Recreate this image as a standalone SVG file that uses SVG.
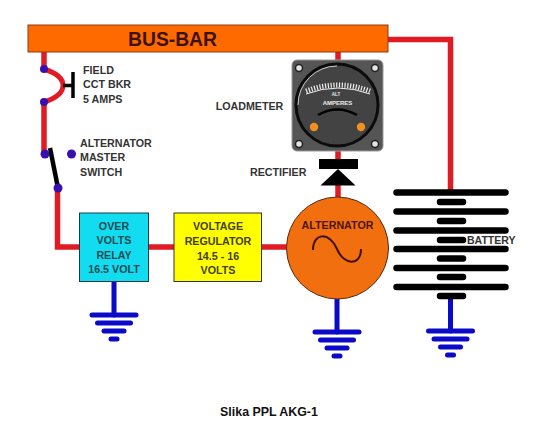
<svg xmlns="http://www.w3.org/2000/svg" width="539" height="447" viewBox="0 0 539 447">
<style>
text{font-family:"Liberation Sans",Arial,sans-serif;font-weight:700;font-size:10.7px;fill:#333}
.m{text-anchor:middle}
.w{fill:none;stroke:#e01b24;stroke-width:5.5}
.g{fill:none;stroke:#0a0ac8;stroke-width:5;stroke-linecap:round}
.b{fill:none;stroke:#000;stroke-width:6.5;stroke-linecap:round}
.d{fill:#3a0fb0}
.rl{fill:#1c4a50}
.yl{fill:#444010}
</style>
<defs>
<g id="gnd" class="g">
<path d="M0 0V33"/><path d="M-22 33H22"/><path d="M-16.500 41H16.500"/><path d="M-10 49H10"/><path d="M-3 57H3"/>
</g>
</defs>
<rect width="539" height="447" fill="#fff"/>
<g id="connectors">
<path class="w" d="M44 52V69M44 102V153M57.500 190V247H80M148 247H175M261 247H288M338 52V62M338 150V160M338 184V198M388 39.500H450.500V190"/>
<path d="M44 69Q63 75 63 85.500Q63 96 44 102" fill="none" stroke="#e01b24" stroke-width="5"/>
<use href="#gnd" x="114" y="282"/>
<use href="#gnd" x="337" y="299"/>
<use href="#gnd" x="450.500" y="298"/>
</g>
<g id="bus-bar">
<rect x="28" y="25" width="360" height="27" fill="#ff6a00" stroke="#8a3b10"/>
<text class="m" x="172.500" y="46" style="font-size:19.300px;fill:#3a1208">BUS-BAR</text>
</g>
<g id="field-breaker">
<path d="M63 85.500H73M73 72V98" fill="none" stroke="#000" stroke-width="3.500"/>
<circle class="d" cx="44" cy="69" r="4"/><circle class="d" cx="44" cy="102" r="4"/>
<text x="83" y="74">FIELD</text><text x="83" y="88">CCT BKR</text><text x="83" y="103">5 AMPS</text>
</g>
<g id="master-switch">
<path d="M50 148L58 188" stroke="#000" stroke-width="4.500"/>
<circle class="d" cx="45" cy="154" r="4.500"/><circle class="d" cx="71.500" cy="154" r="4.500"/><circle class="d" cx="58" cy="188" r="4.500"/>
<text x="80" y="147">ALTERNATOR</text><text x="80" y="161">MASTER</text><text x="80" y="176">SWITCH</text>
</g>
<g id="relay">
<rect x="79.500" y="213" width="69" height="68.500" fill="#12dcf0" stroke="#1c3c44"/>
<g class="m"><text class="rl" x="114" y="230">OVER</text><text class="rl" x="114" y="244">VOLTS</text><text class="rl" x="114" y="259">RELAY</text><text class="rl" x="114" y="273">16.5 VOLT</text></g>
</g>
<g id="regulator">
<rect x="174" y="213" width="87.500" height="68.500" fill="#ffff00" stroke="#333"/>
<g class="m"><text class="yl" x="218" y="230">VOLTAGE</text><text class="yl" x="218" y="245">REGULATOR</text><text class="yl" x="218" y="260">14.5 - 16</text><text class="yl" x="218" y="274">VOLTS</text></g>
</g>
<g id="loadmeter">
<rect x="292" y="60" width="91" height="91" rx="5" fill="#555" stroke="#999"/>
<g fill="#e4e4e4" stroke="#222" stroke-width="1.500"><circle cx="299" cy="68" r="3.500"/><circle cx="375" cy="68" r="3.500"/><circle cx="299" cy="144" r="3.500"/><circle cx="375" cy="144" r="3.500"/></g>
<circle cx="337" cy="105" r="41" fill="#434343" stroke="#0c0c0c" stroke-width="3"/>
<path d="M298 105A39 39 0 0 1 337 66" fill="none" stroke="#ccc" stroke-width="1"/>
<path d="M306 94Q338 82 370 94" fill="none" stroke="#eee" stroke-width="1"/>
<path d="M306 91Q338 79 370 91" fill="none" stroke="#eee" stroke-width="5" stroke-dasharray="1.200 1.600"/>
<text class="m" x="336" y="96" style="font-size:4.500px;fill:#eee">ALT</text>
<text class="m" x="337.500" y="105" style="font-size:6px;fill:#eee">AMPERES</text>
<path d="M318 115Q337 104 357 115" fill="none" stroke="#000" stroke-width="2.500"/>
<circle cx="314" cy="127" r="4.200" fill="#f39020"/><circle cx="361" cy="127" r="4.200" fill="#f39020"/>
<text class="m" x="249.500" y="110">LOADMETER</text>
</g>
<g id="rectifier">
<path d="M319 159H358V169H319ZM338 169L355.500 185.500H320.500Z" fill="#000"/>
<text x="250" y="176">RECTIFIER</text>
</g>
<g id="alternator">
<circle cx="337.500" cy="248" r="51" fill="#f26f0f" stroke="#5a2a10"/>
<text class="m" x="337.500" y="229" style="fill:#4a1408">ALTERNATOR</text>
<path d="M313 250C313 232 330 232 337 249C344 266 361 266 361 249" fill="none" stroke="#401008" stroke-width="2"/>
</g>
<g id="battery">
<path class="b" d="M396.500 192.500H505.500M396.500 211.500H505.500M396.500 230.500H505.500M396.500 249H505.500M396.500 268H505.500M396.500 287H505.500"/>
<path class="b" d="M440 202H463M440 221H463M440 240H463M440 258.500H463M440 277H463M440 296H463"/>
<text x="467" y="244" style="font-size:10.500px">BATTERY</text>
</g>
<text id="caption" class="m" x="269" y="416" style="font-size:12.400px;fill:#111">Slika PPL AKG-1</text>
</svg>
